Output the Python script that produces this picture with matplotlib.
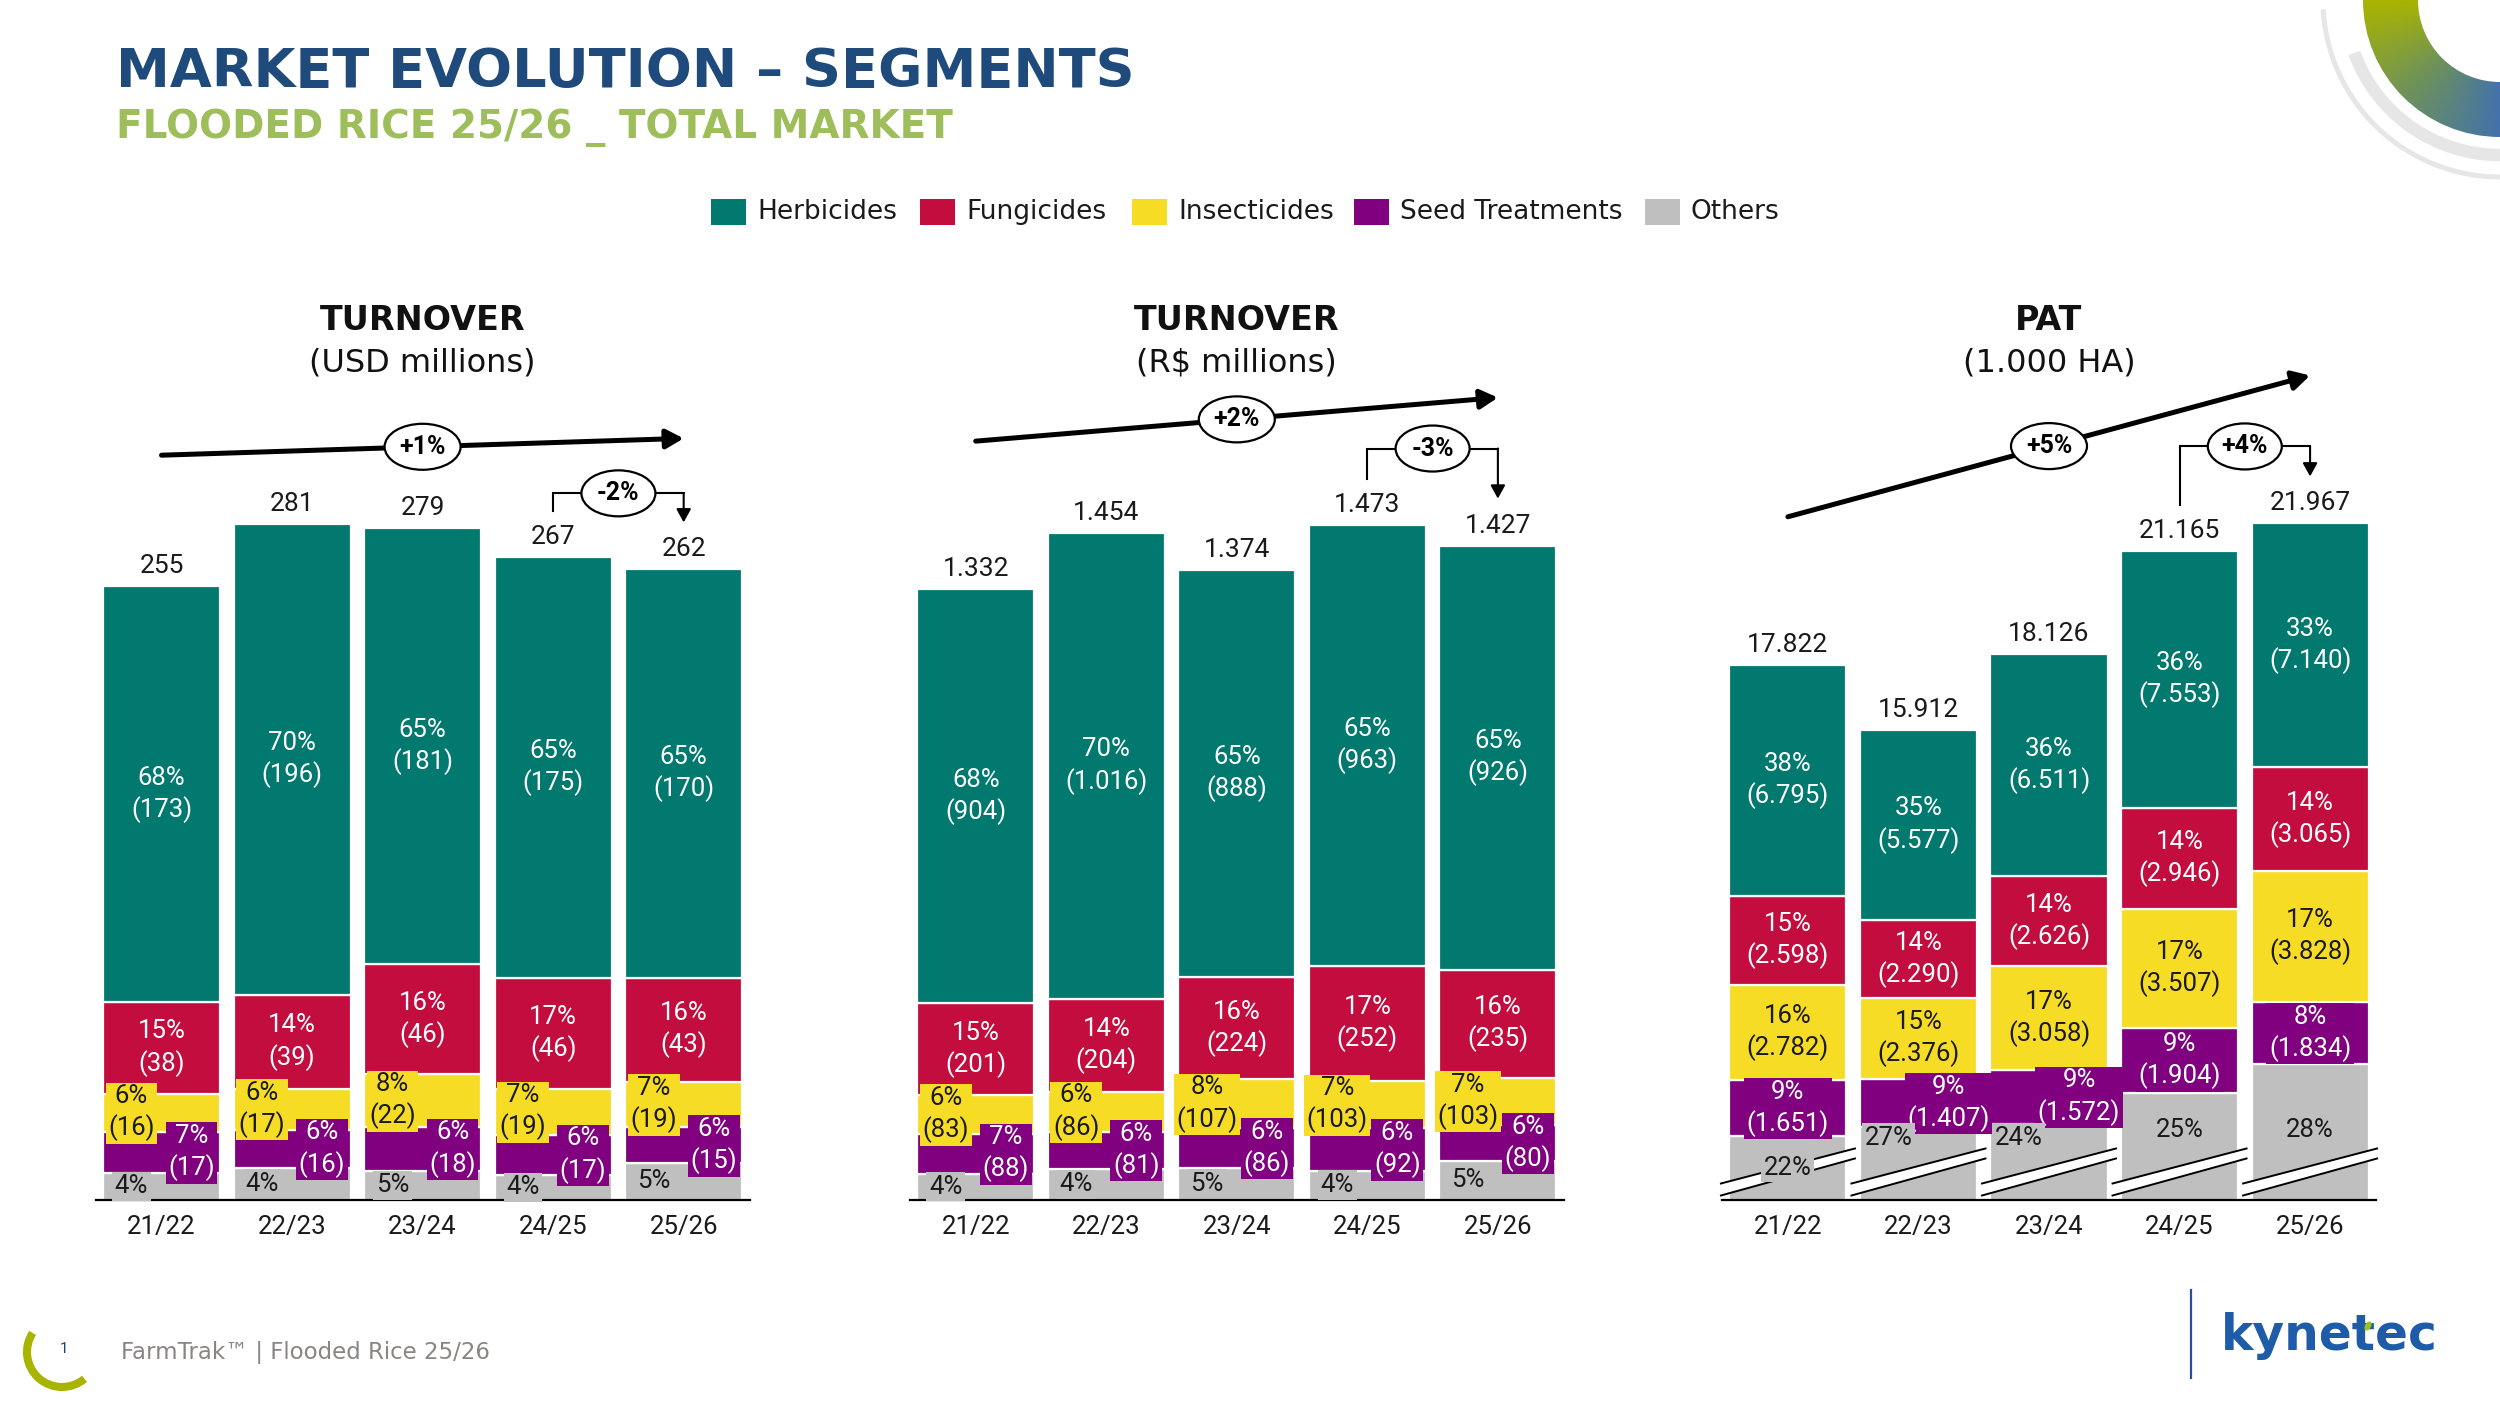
import numpy as np
import matplotlib
matplotlib.use("Agg")
import matplotlib.pyplot as plt
from matplotlib.patches import Rectangle, Ellipse, Polygon, Wedge, Arc
from matplotlib.lines import Line2D
from matplotlib.transforms import IdentityTransform
from matplotlib.colors import LinearSegmentedColormap

# ---------------- data ----------------
categories = ["21/22", "22/23", "23/24", "24/25", "25/26"]

usd_total = [255, 281, 279, 267, 262]
usd_herbicides = [173, 196, 181, 175, 170]
usd_fungicides = [38, 39, 46, 46, 43]
usd_insecticides = [16, 17, 22, 19, 19]
usd_seed = [17, 16, 18, 17, 15]
usd_others = [11, 13, 12, 10, 15]
usd_herb_pct = [68, 70, 65, 65, 65]
usd_fung_pct = [15, 14, 16, 17, 16]
usd_ins_pct = [6, 6, 8, 7, 7]
usd_seed_pct = [7, 6, 6, 6, 6]
usd_oth_pct = [4, 4, 5, 4, 5]
usd_growth = ["+1%", "-2%"]

brl_total = [1332, 1454, 1374, 1473, 1427]
brl_herbicides = [904, 1016, 888, 963, 926]
brl_fungicides = [201, 204, 224, 252, 235]
brl_insecticides = [83, 86, 107, 103, 103]
brl_seed = [88, 81, 86, 92, 80]
brl_others = [56, 67, 69, 63, 83]
brl_herb_pct = [68, 70, 65, 65, 65]
brl_fung_pct = [15, 14, 16, 17, 16]
brl_ins_pct = [6, 6, 8, 7, 7]
brl_seed_pct = [7, 6, 6, 6, 6]
brl_oth_pct = [4, 4, 5, 4, 5]
brl_growth = ["+2%", "-3%"]

pat_total = [17822, 15912, 18126, 21165, 21967]
pat_herbicides = [6795, 5577, 6511, 7553, 7140]
pat_fungicides = [2598, 2290, 2626, 2946, 3065]
pat_insecticides = [2782, 2376, 3058, 3507, 3828]
pat_seed = [1651, 1407, 1572, 1904, 1834]
pat_others = [3996, 4262, 4359, 5255, 6100]
pat_herb_pct = [38, 35, 36, 36, 33]
pat_fung_pct = [15, 14, 14, 14, 14]
pat_ins_pct = [16, 15, 17, 17, 17]
pat_seed_pct = [9, 9, 9, 9, 8]
pat_oth_pct = [22, 27, 24, 25, 28]
pat_growth = ["+5%", "+4%"]

segment_names = ["Herbicides", "Fungicides", "Insecticides", "Seed Treatments", "Others"]

# ---------------- style ----------------
C_HERB = "#02796F"
C_FUNG = "#C20D3E"
C_INS = "#F6DC25"
C_SEED = "#800080"
C_OTH = "#BFBFBF"
SEG_COLORS = [C_HERB, C_FUNG, C_INS, C_SEED, C_OTH]
DARK = "#1A1A1A"
NUM = ["Roboto", "DejaVu Sans"]
TXT = ["DejaVu Sans"]
LABEL_FS = 18.5

W, H = 2500, 1406
BASE = 1199.5   # baseline (px from top)
AX_TOP = 300.0
AX_W = 654.0
BAR_W = 117 / 130.5

fig = plt.figure(figsize=(W / 100, H / 100), dpi=100)
fig.patch.set_facecolor("white")

ov = fig.add_axes([0, 0, 1, 1], zorder=10)
ov.set_xlim(0, W)
ov.set_ylim(H, 0)
ov.set_autoscale_on(False)
ov.axis("off")
ov.patch.set_alpha(0)


def fmt(v):
    return f"{v:,}".replace(",", ".")


def to_ov(ax, x, y):
    d = ax.transData.transform((x, y))
    return d[0], H - d[1]


def draw_chart(left_px, ylim, segs, pcts, totals, growth, title, subtitle,
               lift, hb, place, boxed, pat=False):
    ax = fig.add_axes([left_px / W, (H - BASE) / H, AX_W / W, (BASE - AX_TOP) / H])
    ax.set_xlim(-0.505, 4.505)
    ax.set_ylim(*ylim)
    ax.set_autoscale_on(False)
    for s in ["top", "right", "left"]:
        ax.spines[s].set_visible(False)
    ax.spines["bottom"].set_linewidth(1.6)
    ax.spines["bottom"].set_color("black")
    ax.spines["bottom"].set_zorder(3)
    ax.set_yticks([])
    x = np.arange(len(categories))
    ax.set_xticks(x)
    ax.set_xticklabels(categories, fontsize=18.5, family=NUM, color=DARK)
    ax.tick_params(axis="x", length=0, pad=11)
    ax.patch.set_alpha(0)

    # stacking order bottom -> top: others, seed, insecticides, fungicides, herbicides
    order = [4, 3, 2, 1, 0]
    bottoms = np.zeros(len(x))
    seg_bottom = {}
    for k in order:
        vals = np.asarray(segs[k], dtype=float)
        ax.bar(x, vals, BAR_W, bottom=bottoms, color=SEG_COLORS[k],
               edgecolor="white", linewidth=1.6, zorder=2)
        seg_bottom[k] = bottoms.copy()
        bottoms = bottoms + vals

    base_disp = ax.transData.transform((0, ylim[0]))[1]

    # axis break marks (PAT chart)
    if pat:
        for i in x:
            xc = ax.transData.transform((i, 0))[0]
            xl, xr = xc - 67, xc + 67
            band = Polygon([(xl, base_disp + 4), (xr, base_disp + 41),
                            (xr, base_disp + 51), (xl, base_disp + 16)],
                           closed=True, fc="white", ec="none",
                           transform=IdentityTransform(), zorder=4, clip_on=False)
            ax.add_patch(band)
            for y_l, y_r in [(4, 41), (16, 51)]:
                ax.add_line(Line2D([xl, xr], [base_disp + y_l, base_disp + y_r],
                                   color="black", lw=1.4, transform=IdentityTransform(),
                                   zorder=4.5, clip_on=False))

    # segment labels
    txt_col = ["white", "white", DARK, "white", DARK]
    dxmap = {"C": 0.0, "L": -0.23, "R": 0.23}
    for k in range(5):
        vals = segs[k]
        for i in x:
            v = vals[i]
            if k == 4:
                lab = f"{pcts[k][i]}%"
            else:
                lab = f"{pcts[k][i]}%\n({fmt(v)})"
            xi = i + dxmap[place[k][i]]
            lo = max(seg_bottom[k][i], ylim[0])
            yc = lo + (seg_bottom[k][i] + v - lo) / 2
            if pat and k == 4:
                top_disp = ax.transData.transform((i, seg_bottom[k][i] + v))[1]
                dx_px = (xi - i) * 130.5
                brk = base_disp + 33.5 + dx_px * 35 / 134
                if top_disp - brk > 35:
                    yd = max((top_disp + brk) / 2 + 4, brk + 36)
                    yd = min(yd, brk + 36) if (top_disp - brk) > 70 else yd
                    yc = ax.transData.inverted().transform((0, yd))[1]
            bb = None
            if boxed[k]:
                bb = dict(boxstyle="square,pad=0.1", fc=SEG_COLORS[k], ec="none")
            ax.text(xi, yc, lab, ha="center", va="center", fontsize=LABEL_FS,
                    family=NUM, color=txt_col[k], linespacing=1.3,
                    zorder=6, bbox=bb)

    # totals
    for i in x:
        ax.annotate(fmt(totals[i]), (i, totals[i]), xytext=(0, 13),
                    textcoords="offset pixels", ha="center", va="baseline",
                    fontsize=19, family=NUM, color=DARK, zorder=6)

    # titles
    cx, _ = to_ov(ax, 2, 0)
    ov.text(cx, 321, title, ha="center", va="center", fontsize=24,
            fontweight="bold", family=TXT, color="#111111")
    ov.text(cx, 363, subtitle, ha="center", va="center", fontsize=23,
            family=TXT, color="#111111")

    # long trend arrow
    x0, y0 = to_ov(ax, 0, totals[0])
    x1, y1 = to_ov(ax, 4, totals[4])
    y0 -= lift
    y1 -= lift
    ov.annotate("", xy=(x1, y1), xytext=(x0, y0),
                arrowprops=dict(arrowstyle="-|>,head_length=0.4,head_width=0.22",
                                mutation_scale=26, lw=3.6, color="black",
                                shrinkA=0, shrinkB=0), zorder=11)
    ym = y0 + (y1 - y0) * (cx - x0) / (x1 - x0)
    ov.add_patch(Ellipse((cx, ym), 76, 46, fc="white", ec="black", lw=1.6, zorder=12))
    ov.text(cx, ym, growth[0], ha="center", va="center", fontsize=18,
            fontweight="bold", family=NUM, color="black", zorder=13)

    # year-on-year bracket
    xa, ya = to_ov(ax, 3, totals[3])
    xb, yb = to_ov(ax, 4, totals[4])
    yh = min(ya, yb) - hb
    ov.plot([xa, xa, xb], [ya - 46, yh, yh], color="black", lw=1.5,
            solid_joinstyle="miter", zorder=11)
    ov.annotate("", xy=(xb, yb - 47), xytext=(xb, yh),
                arrowprops=dict(arrowstyle="-|>,head_length=0.4,head_width=0.22",
                                mutation_scale=20, lw=1.5, color="black",
                                shrinkA=0, shrinkB=0), zorder=11)
    xm = (xa + xb) / 2
    ov.add_patch(Ellipse((xm, yh), 74, 46, fc="white", ec="black", lw=1.6, zorder=12))
    ov.text(xm, yh, growth[1], ha="center", va="center", fontsize=18,
            fontweight="bold", family=NUM, color="black", zorder=13)
    return ax


side_place = ["CCCCC", "CCCCC", "LLLLL", "RRRRR", "LLLLL"]
side_box = [False, False, True, True, True]

draw_chart(95.6, (0, 374),
           [usd_herbicides, usd_fungicides, usd_insecticides, usd_seed, usd_others],
           [usd_herb_pct, usd_fung_pct, usd_ins_pct, usd_seed_pct, usd_oth_pct],
           usd_total, usd_growth, "TURNOVER", "(USD millions)", 131, 64,
           side_place, side_box)

draw_chart(909.8, (0, 1963),
           [brl_herbicides, brl_fungicides, brl_insecticides, brl_seed, brl_others],
           [brl_herb_pct, brl_fung_pct, brl_ins_pct, brl_seed_pct, brl_oth_pct],
           brl_total, brl_growth, "TURNOVER", "(R$ millions)", 148, 76,
           side_place, side_box)

draw_chart(1722.0, (2140, 28520),
           [pat_herbicides, pat_fungicides, pat_insecticides, pat_seed, pat_others],
           [pat_herb_pct, pat_fung_pct, pat_ins_pct, pat_seed_pct, pat_oth_pct],
           pat_total, pat_growth, "PAT", "(1.000 HA)", 148, 77,
           ["CCCCC", "CCCCC", "CCCCC", "CRRCC", "CLLCC"],
           [False, False, False, True, True], pat=True)

# ---------------- header ----------------
ov.text(116, 87, "MARKET EVOLUTION – SEGMENTS", ha="left", va="baseline",
        fontsize=39, fontweight="bold", family=TXT, color="#1F4A7C")
ov.text(116, 138, "FLOODED RICE 25/26 _ TOTAL MARKET", ha="left", va="baseline",
        fontsize=28, fontweight="bold", family=TXT, color="#9DBE5A")

# legend
leg_x = [711, 920, 1132, 1354, 1645]
for name, col, lx in zip(segment_names, SEG_COLORS, leg_x):
    ov.add_patch(Rectangle((lx, 199), 35, 26, fc=col, ec="none"))
    ov.text(lx + 46, 212, name, ha="left", va="center", fontsize=19,
            family=TXT, color=DARK)

# ---------------- decorations ----------------
# top-right ring with gradient
nx = ny = 160
xs = np.linspace(2340, 2500, nx)
ys = np.linspace(0, 160, ny)
XX, YY = np.meshgrid(xs, ys)
tt = np.arctan2(YY, 2500 - XX + 1e-9) / (np.pi / 2)
cmap = LinearSegmentedColormap.from_list("ring", ["#A9B400", "#6E925A", "#4472AA"])
im = ov.imshow(tt, cmap=cmap, vmin=0, vmax=1, extent=(2340, 2500, 160, 0),
               origin="upper", aspect="auto", zorder=1, interpolation="bilinear")
ring = Wedge((2500, 0), 137, 90, 180, width=55, transform=ov.transData)
im.set_clip_path(ring)
ov.set_xlim(0, W)
ov.set_ylim(H, 0)
ov.add_patch(Arc((2500, 0), 2 * 177, 2 * 177, theta1=90, theta2=177,
                 lw=3.6, color="#E6E6E6", zorder=1))
ov.add_patch(Arc((2500, 0), 2 * 155, 2 * 155, theta1=90, theta2=160,
                 lw=9, color="#E6E6E6", zorder=1))

# footer
ov.add_patch(Arc((62, 1352), 70, 70, theta1=50, theta2=213, lw=5.8,
                 color="#A8B400", zorder=1))
ov.text(64, 1349, "1", ha="center", va="center", fontsize=11, family=NUM,
        color="#1F3F7A")
ov.text(121, 1353, "FarmTrak™ | Flooded Rice 25/26", ha="left", va="center",
        fontsize=16.5, family=TXT, color="#8C8482")

# logo
ov.plot([2191, 2191], [1290, 1378], color="#2E4D9A", lw=1.6)
ov.text(2221, 1350, "kynetec", ha="left", va="baseline", fontsize=35,
        fontweight="bold", family=TXT, color="#1E5BA8")
ov.add_patch(Ellipse((2368, 1326), 6, 10, angle=30, fc="#9CC31C", ec="none", zorder=12))

ov.set_xlim(0, W)
ov.set_ylim(H, 0)

fig.savefig("out.png", dpi=100, facecolor="white")
